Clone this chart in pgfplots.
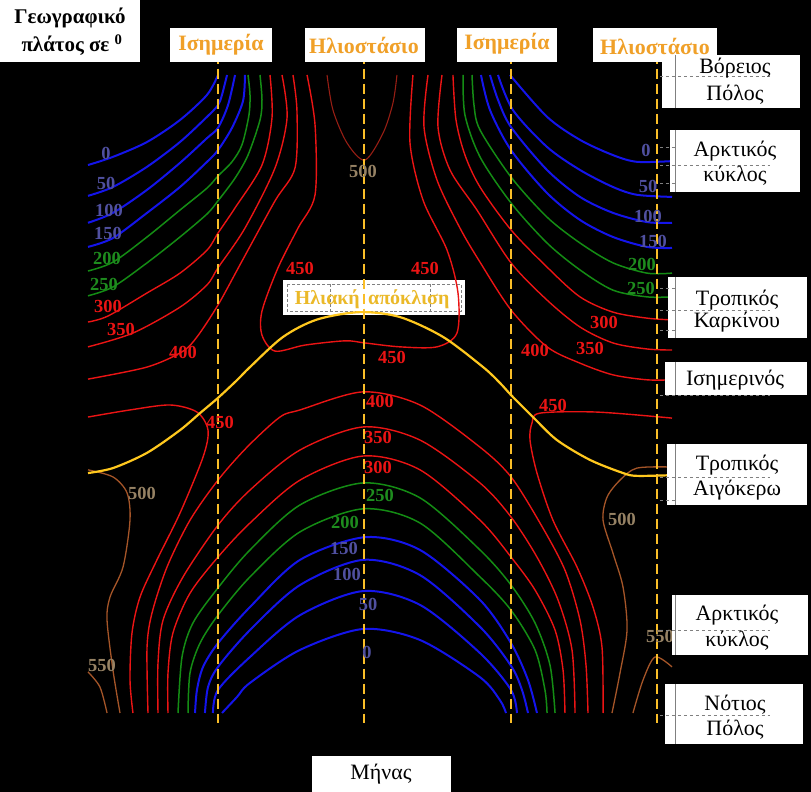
\documentclass[border=0pt]{standalone}
\usepackage{fontspec}
\setmainfont{Liberation Serif}
\usepackage{pgfplots}
\pgfplotsset{compat=1.18}
\definecolor{cblue}{RGB}{20,20,235}
\definecolor{cgreen}{RGB}{20,140,20}
\definecolor{cred}{RGB}{235,20,20}
\definecolor{cdred}{RGB}{150,30,20}
\definecolor{cbrown}{RGB}{165,85,40}
\definecolor{cyel}{RGB}{255,200,30}
\definecolor{cdash}{RGB}{250,190,40}
\definecolor{lblue}{RGB}{80,80,160}
\definecolor{lgreen}{RGB}{30,140,30}
\definecolor{lred}{RGB}{235,20,20}
\definecolor{lbrown}{RGB}{150,130,100}
\definecolor{corange}{RGB}{240,160,40}
\definecolor{cgold}{RGB}{235,185,40}
\begin{document}
\begin{tikzpicture}
\fill[black] (0,0) rectangle (811bp,792bp);
\begin{scope}[x=1bp,y=-1bp,yshift=792bp]
\fill[white] (283,280) rectangle (465,315);
\draw[gray,densely dashed,line width=0.6bp] (287,284) rectangle (461,311);
\draw[gray,densely dashed,line width=0.6bp] (330,284)--(330,311) (430,284)--(430,311);
\node[text=cgold,font=\bfseries\fontsize{20}{20}\selectfont,anchor=east,inner sep=0pt] at (360,299) {Ηλιακή};
\node[text=cgold,font=\bfseries\fontsize{20}{20}\selectfont,anchor=west,inner sep=0pt] at (368,299) {απόκλιση};
\end{scope}
\begin{axis}[at={(88bp,79bp)},anchor=south west,width=584bp,height=638bp,scale only axis,
  xmin=0,xmax=365,ymin=-90,ymax=90,hide axis,clip=false]
% ---------- north, January-March side
\addplot[cblue,line width=2bp,smooth,tension=0.5] coordinates {(0,64.6) (15.6,66.9) (36.9,71.1) (57.5,77.3) (74.4,84.4) (81.25,90)};
\addplot[cblue,line width=2bp,smooth,tension=0.5] coordinates {(0,55.9) (15.6,58.4) (36.9,64.1) (57.5,71.1) (74.4,78.2) (81.25,81.5) (83.75,84.4) (86.9,90)};
\addplot[cblue,line width=2bp,smooth,tension=0.5] coordinates {(0,48.3) (15.6,51.1) (36.9,57.6) (57.5,65.2) (74.4,72.2) (81.25,75.1) (87.5,81.5) (91.9,90)};
\addplot[cblue,line width=2bp,smooth,tension=0.5] coordinates {(0,41.5) (15.6,44.0) (36.9,51.1) (57.5,58.4) (74.4,65.5) (81.25,68.8) (90,75.1) (96.9,82.7) (98.1,90)};
\addplot[cgreen,line width=1.5bp,smooth,tension=0.5] coordinates {(0,34.7) (15.6,37.2) (36.9,44.3) (57.5,51.9) (74.4,58.1) (81.25,61.5) (90,65.5) (96.25,70.3) (100.6,78.7) (101.25,84.4) (100,90)};
\addplot[cgreen,line width=1.5bp,smooth,tension=0.5] coordinates {(0,27.7) (15.6,30.2) (36.9,37.0) (57.5,44.3) (74.4,50.8) (81.25,54.5) (91.9,60.9) (100,67.4) (107.5,77.3) (108.75,83.0) (107.5,90)};
\addplot[cred,line width=1.4bp,smooth,tension=0.5] coordinates {(0,20.3) (12.5,22.0) (36.9,28.5) (57.5,34.1) (74.4,40.6) (81.25,45.4) (91.9,52.5) (108.75,64.6) (115,77.9) (113.75,90)};
\addplot[cred,line width=1.4bp,smooth,tension=0.5] coordinates {(0,13.3) (28.1,17.2) (57.5,24.5) (74.4,30.8) (81.25,35.6) (98.1,46.8) (116.9,63.8) (124.4,77.9) (121.25,90)};
\addplot[cred,line width=1.4bp,smooth,tension=0.5] coordinates {(0,4.2) (36.9,7.6) (58.75,11.9) (68.1,16.1) (81.25,25.1) (96.25,37.5) (116.9,54.5) (129.4,63.8) (130.6,79.9) (128.1,90)};
% ---------- north, 450 loop and 500
\addplot[cred,line width=1.4bp,smooth,tension=0.5] coordinates {(136.9,90) (141.9,75.9) (141.9,56.2) (131.25,46.8) (118.75,35.6) (108.75,23.4) (108.75,16.6) (116.9,12.1) (135.6,13.8) (160.6,15.0) (173.1,14.4) (195,13.3) (218.1,13.3) (230.6,17.2) (231.25,28.5) (224.4,40.6) (209.4,54.7) (201.25,70.8) (203.1,90)};
\addplot[cdred,line width=1.1bp,smooth,tension=0.5] coordinates {(149.4,90) (153.1,80.1) (161.9,70.8) (173.1,66.0) (184.4,73.6) (190.6,82.1) (193.1,90)};
% ---------- north, July-December side
\addplot[cblue,line width=2bp,smooth,tension=0.5] coordinates {(263.75,90) (286.9,78.2) (307.5,71.7) (328.1,67.4) (343.1,65.5) (365,65.7)};
\addplot[cblue,line width=2bp,smooth,tension=0.5] coordinates {(256.25,90) (265.6,80.1) (286.9,69.7) (307.5,63.2) (328.1,58.4) (343.1,56.2) (365,55.6)};
\addplot[cblue,line width=2bp,smooth,tension=0.5] coordinates {(251.25,90) (256.25,83.0) (264.4,75.3) (286.9,63.2) (307.5,55.6) (328.1,51.1) (349.4,48.5) (365,48.3)};
\addplot[cblue,line width=2bp,smooth,tension=0.5] coordinates {(245.6,90) (251.25,80.1) (264.4,68.8) (286.9,56.7) (307.5,49.1) (328.1,44.3) (349.4,41.5) (365,41.2)};
\addplot[cgreen,line width=1.5bp,smooth,tension=0.5] coordinates {(240,90) (241.25,81.5) (245,74.5) (264.4,61.2) (286.9,49.9) (307.5,42.6) (328.1,37.0) (349.4,34.1) (365,34.1)};
\addplot[cgreen,line width=1.5bp,smooth,tension=0.5] coordinates {(234.4,90) (235.6,78.7) (245,66.9) (264.4,53.9) (286.9,42.6) (307.5,35.0) (328.1,29.3) (349.4,27.4) (365,27.4)};
\addplot[cred,line width=1.4bp,smooth,tension=0.5] coordinates {(228.1,90) (230,77.3) (235.6,67.4) (245,58.4) (264.4,46.3) (286.9,35.8) (307.5,27.4) (328.1,23.1) (349.4,21.4) (365,20.9)};
\addplot[cred,line width=1.4bp,smooth,tension=0.5] coordinates {(221.25,90) (218.75,75.3) (226.25,63.2) (243.1,51.9) (264.4,37.0) (286.9,26.5) (307.5,18.9) (328.1,14.4) (349.4,12.7) (365,12.4)};
\addplot[cred,line width=1.4bp,smooth,tension=0.5] coordinates {(212.5,90) (210,75.3) (218.1,60.4) (232.5,46.8) (245,37.2) (264.4,23.7) (286.9,13.3) (307.5,8.7) (328.1,5.4) (349.4,4.0) (365,4.0)};
% ---------- south arcs
\addplot[cblue,line width=2bp,smooth,tension=0.5] coordinates {(83.75,-90) (93.1,-85.5) (101.25,-81.5) (132.5,-72.2) (171.9,-66.3) (207.5,-69.4) (245,-79.9) (257.5,-86.4) (261.25,-90)};
\addplot[cblue,line width=2bp,smooth,tension=0.5] coordinates {(78.1,-90) (81.25,-83.5) (101.25,-74.2) (132.5,-62.4) (171.9,-55.6) (207.5,-59.5) (245,-73.1) (264.4,-83.5) (268.1,-90)};
\addplot[cblue,line width=2bp,smooth,tension=0.5] coordinates {(73.1,-90) (75,-82.7) (81.25,-77.0) (101.25,-66.6) (132.5,-53.9) (171.9,-46.8) (207.5,-51.1) (245,-65.7) (264.4,-76.7) (271.25,-83.5) (275,-90)};
\addplot[cblue,line width=2bp,smooth,tension=0.5] coordinates {(66.9,-90) (68.1,-83.5) (71.9,-77.0) (81.25,-70.3) (101.25,-60.1) (132.5,-46.8) (173.1,-40.4) (207.5,-44.0) (245,-58.1) (264.4,-70.3) (275,-80.7) (280.6,-90)};
\addplot[cgreen,line width=1.5bp,smooth,tension=0.5] coordinates {(62.5,-90) (63.75,-78.7) (70,-70.3) (81.25,-62.4) (101.25,-51.6) (132.5,-38.9) (171.9,-32.4) (207.5,-36.4) (245,-51.6) (264.4,-61.0) (279.4,-72.2) (285.6,-83.5) (286.9,-90)};
\addplot[cgreen,line width=1.5bp,smooth,tension=0.5] coordinates {(56.25,-90) (58.75,-74.2) (65.6,-64.6) (81.25,-54.7) (101.25,-44.0) (132.5,-31.3) (171.9,-25.1) (207.5,-29.3) (245,-44.0) (264.4,-53.9) (279.4,-64.6) (288.75,-76.5) (291.9,-90)};
\addplot[cred,line width=1.4bp,smooth,tension=0.5] coordinates {(50,-90) (50,-78.7) (53.1,-67.4) (63.75,-56.2) (81.25,-46.0) (101.25,-36.4) (132.5,-24.3) (171.9,-17.5) (207.5,-21.4) (245,-35.6) (264.4,-46.0) (279.4,-55.3) (291.9,-66.6) (296.9,-77.9) (298.1,-90)};
\addplot[cred,line width=1.4bp,smooth,tension=0.5] coordinates {(43.75,-90) (43.75,-75.9) (46.9,-63.8) (59.4,-51.6) (81.25,-37.0) (101.25,-27.1) (132.5,-15.8) (171.9,-9.3) (207.5,-13.0) (245,-25.1) (264.4,-34.7) (280.6,-46.0) (293.75,-58.1) (302.5,-72.2) (304.4,-90)};
\addplot[cred,line width=1.4bp,smooth,tension=0.5] coordinates {(37.5,-90) (36.9,-71.4) (40,-61.8) (49.4,-48.8) (63.75,-35.6) (81.25,-24.3) (99.4,-15.0) (120,-6.5) (132.5,-4.5) (171.9,0.6) (207.5,-3.1) (245,-15.0) (264.4,-23.4) (282.5,-36.4) (298.1,-49.7) (307.5,-63.8) (311.25,-76.5) (312.5,-90)};
% ---------- south 450, 500, 550
\addplot[cred,line width=1.4bp,smooth,tension=0.5] coordinates {(0,-6.5) (26.25,-4.5) (51.25,-3.1) (68.1,-5.1) (75,-10.2) (71.9,-17.8) (57.5,-33.6) (43.1,-46.8) (32.5,-57.3) (27.5,-67.4) (26.25,-80.7) (28.1,-90)};
\addplot[cred,line width=1.4bp,smooth,tension=0.5] coordinates {(365,-6.8) (318.1,-5.1) (282.5,-5.4) (277.5,-8.2) (276.25,-13.0) (280.6,-22.3) (290.6,-35.6) (305.6,-48.8) (315.6,-60.1) (321.25,-71.4) (321.9,-90)};
\addplot[cbrown,line width=1.3bp,smooth,tension=0.5] coordinates {(0,-21.4) (15.6,-23.4) (24.4,-27.9) (26.25,-35.6) (21.9,-48.8) (13.75,-57.3) (11.9,-63.8) (15.6,-77.9) (20,-90)};
\addplot[cbrown,line width=1.3bp,smooth,tension=0.5] coordinates {(365,-20.6) (343.1,-20.9) (332.5,-24.3) (324.4,-29.1) (321.9,-35.6) (328.1,-44.9) (334.4,-54.5) (336.9,-66.6) (332.5,-78.7) (327.5,-90)};
\addplot[cbrown,line width=1.3bp,smooth,tension=0.5] coordinates {(0,-78.4) (7.5,-82.7) (11.9,-90)};
\addplot[cbrown,line width=1.3bp,smooth,tension=0.5] coordinates {(340.6,-90) (346.9,-80.7) (354.4,-74.2) (365,-77.0)};
% ---------- solar declination
\addplot[cyel,line width=2.2bp,smooth,tension=0.5] coordinates {(0,-22.3) (15.6,-20.9) (36.9,-16.6) (57.5,-10.2) (70,-5.4) (81.25,-1.1) (93.1,3.9) (101.25,7.6) (121.9,16.1) (143.1,21.0) (170,23.1) (195,21.7) (221.9,16.1) (246.9,7.6) (257.5,3.1) (264.4,-0.3) (278.1,-6.5) (293.1,-13.0) (313.75,-18.6) (334.4,-22.3) (343.1,-23.1) (365,-22.9)};
% ---------- equinoxes and solstices
\addplot[cdash,line width=2.6bp,dash pattern=on 10bp off 5bp] coordinates {(81.25,96) (81.25,-92.8)};
\addplot[cdash,line width=2.6bp,dash pattern=on 10bp off 5bp] coordinates {(172.5,96) (172.5,-92.8)};
\addplot[cdash,line width=2.6bp,dash pattern=on 10bp off 5bp] coordinates {(264.4,96) (264.4,-92.8)};
\addplot[cdash,line width=2.6bp,dash pattern=on 10bp off 5bp] coordinates {(355.6,96) (355.6,-92.8)};
\end{axis}
\begin{scope}[x=1bp,y=-1bp,yshift=792bp,
  lb/.style={font=\bfseries\fontsize{18.5}{18.5}\selectfont,inner sep=0pt},
  hdr/.style={text=corange,font=\bfseries\fontsize{22}{22}\selectfont,inner sep=0pt},
  rt/.style={font=\fontsize{22}{22}\selectfont,inner sep=0pt}]
% contour labels
\foreach \x/\y/\t in {106/153/0,106/183/50,109/210/100,108/233/150,646/150/0,648/186/50,648/216/100,653/241/150,344/548/150,347/574/100,368/604/50,367/652/0}
  \node[lb,text=lblue] at (\x,\y) {\t};
\foreach \x/\y/\t in {107/258/200,104/284/250,642/264/200,641/288/250,380/495/250,345/522/200}
  \node[lb,text=lgreen] at (\x,\y) {\t};
\foreach \x/\y/\t in {108/306/300,121/329/350,183/352/400,604/322/300,590/348/350,535/350/400,300/268/450,425/268/450,392/357/450,380/401/400,378/437/350,378/467/300,220/422/450,553/405/450}
  \node[lb,text=lred] at (\x,\y) {\t};
\foreach \x/\y/\t in {363/171/500,142/493/500,102/665/550,622/519/500,660/636/550}
  \node[lb,text=lbrown] at (\x,\y) {\t};
% header boxes
\fill[white] (170,28) rectangle (272,62); \node[hdr] at (221,45) {Ισημερία};
\fill[white] (305,28) rectangle (425,62); \node[hdr] at (364,45) {Ηλιοστάσιο};
\fill[white] (457,28) rectangle (557,62); \node[hdr] at (507,44) {Ισημερία};
\fill[white] (593,28) rectangle (717,62); \node[hdr] at (655,46) {Ηλιοστάσιο};
% title
\fill[white] (0,0) rectangle (140,62);
\node[font=\bfseries\fontsize{21}{21}\selectfont,inner sep=0pt] at (70,18) {Γεωγραφικό};
\node[font=\bfseries\fontsize{21}{21}\selectfont,inner sep=0pt] at (72,45) {πλάτος σε \textsuperscript{0}};
% right boxes
\fill[white] (662,55) rectangle (800,108);
\fill[white] (670,130) rectangle (800,192);
\fill[white] (668,277) rectangle (807,338);
\fill[white] (665,362) rectangle (807,395);
\fill[white] (667,444) rectangle (807,505);
\fill[white] (672,595) rectangle (808,655);
\fill[white] (665,684) rectangle (803,744);
\draw[gray,line width=0.7bp] (675,55)--(675,108) (675,130)--(675,192) (675,277)--(675,338) (675,362)--(675,395) (675,444)--(675,505) (675,595)--(675,655) (675,684)--(675,744);
\draw[gray,dashed,line width=0.7bp] (660,76)--(770,76) (660,165)--(770,165) (660,310)--(770,310) (660,395)--(770,395) (660,477)--(770,477) (660,630)--(770,630) (660,715)--(770,715);
\draw[gray,dashed,line width=0.7bp] (660,147)--(675,147) (660,183)--(675,183) (660,288)--(675,288) (660,330)--(675,330) (660,500)--(675,500);
\node[rt] at (735,68) {Βόρειος};
\node[rt] at (735,95) {Πόλος};
\node[rt] at (735,151) {Αρκτικός};
\node[rt] at (735,176) {κύκλος};
\node[rt] at (737,300) {Τροπικός};
\node[rt] at (737,322) {Καρκίνου};
\node[rt] at (735,380) {Ισημερινός};
\node[rt] at (737,465) {Τροπικός};
\node[rt] at (737,490) {Αιγόκερω};
\node[rt] at (737,615) {Αρκτικός};
\node[rt] at (737,641) {κύκλος};
\node[rt] at (735,705) {Νότιος};
\node[rt] at (735,730) {Πόλος};
% x title
\fill[white] (312,756) rectangle (451,792);
\node[rt] at (381,774) {Μήνας};
\end{scope}
\end{tikzpicture}
\end{document}
